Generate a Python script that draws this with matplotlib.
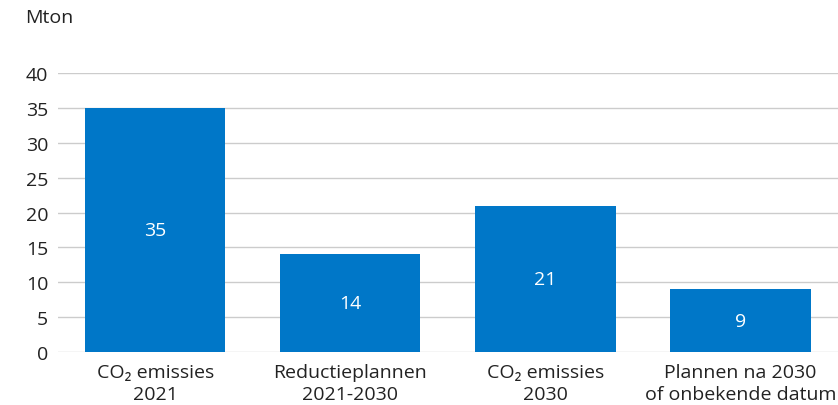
import matplotlib.pyplot as plt

categories = ["CO₂ emissies\n2021", "Reductieplannen\n2021-2030", "CO₂ emissies\n2030",
              "Plannen na 2030\nof onbekende datum"]
values = [35, 14, 21, 9]
yticks = [0, 5, 10, 15, 20, 25, 30, 35, 40]

plt.rcParams['font.family'] = ['Open Sans', 'DejaVu Sans']
plt.rcParams['font.size'] = 14

fig = plt.figure(figsize=(8.38, 4.06), dpi=100)
ax = fig.add_axes([0.0692, 0.1305, 0.9308, 0.6872])

x = range(len(categories))
ax.bar(x, values, width=0.718, color="#0077C8", zorder=3)
for xi, v in zip(x, values):
    ax.text(xi, v / 2, str(v), ha="center", va="center", color="white", fontsize=14)

ax.set_xlim(-0.5, 3.5)
ax.set_ylim(0, 40)
ax.set_yticks(yticks)
ax.set_xticks(list(x))
ax.set_xticklabels(categories, linespacing=1.25)
ax.tick_params(axis="both", length=0, colors="#222222", labelsize=14)
ax.tick_params(axis="y", pad=7)
ax.tick_params(axis="x", pad=8)
ax.grid(axis="y", color="#cccccc", linewidth=1, zorder=0)
for s in ax.spines.values():
    s.set_visible(False)

fig.text(25 / 838, 1 - 18 / 406, "Mton", ha="left", va="center", color="#222222", fontsize=14)

fig.savefig("out.png", dpi=100)
